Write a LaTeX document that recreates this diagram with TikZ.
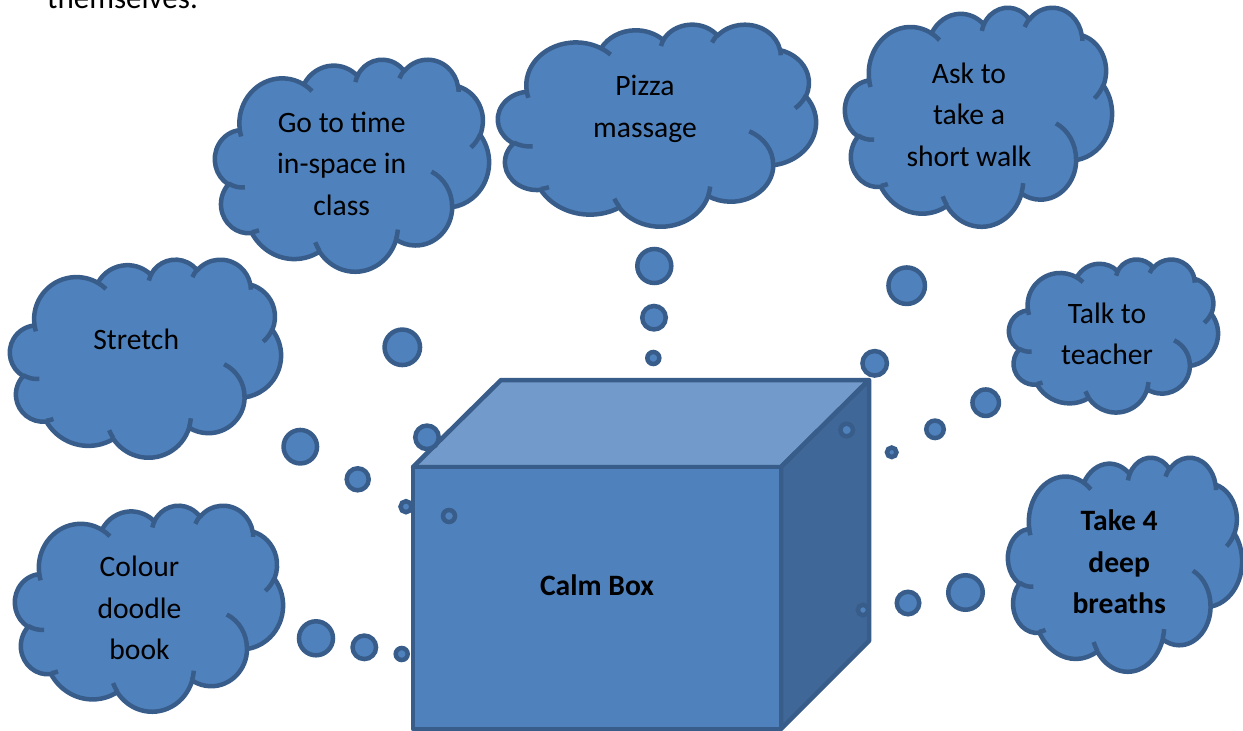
\documentclass[tikz,border=0pt]{standalone}
\usepackage{fontspec}
\setmainfont{Carlito}
\definecolor{cloudfill}{HTML}{4F81BD}
\definecolor{cloudline}{HTML}{385D8A}
\definecolor{topface}{HTML}{729ACA}
\definecolor{sideface}{HTML}{3F6797}
\newcommand\cldarc[4]{%
  \pgfmathsetmacro\cldts{atan2((#1)*sin(#3),(#2)*cos(#3))}%
  \pgfmathsetmacro\cldte{atan2((#1)*sin((#3)+(#4)),(#2)*cos((#3)+(#4)))}%
  \pgfmathsetmacro\cldd{\cldte-(\cldts)}%
  \pgfmathsetmacro\cldd{\cldd-360*round((\cldd-(#4))/360)}%
  \pgfmathsetmacro\cldend{\cldts+(\cldd)}%
  \pgfpatharc{\cldts}{\cldend}{#1pt and #2pt}%
}
\newcommand\cldmove[2]{\pgfpathmoveto{\pgfqpoint{#1pt}{#2pt}}}
\newcommand\calmcloud[4]{%
  \begin{scope}[shift={(#1,#2)},xscale=#3/43.2,yscale=-#4/43.2]
    \pgfsetlinewidth{4.5pt}\pgfsetroundjoin
    \pgfsetstrokecolor{cloudline}\pgfsetfillcolor{cloudfill}
    \cldmove{3.9}{14.37}
    \cldarc{6.753}{9.19}{-190.4875}{123.7805}
    \cldarc{5.333}{7.267}{-144.1024}{89.9452}
    \cldarc{4.365}{5.945}{-145.8079}{99.7230}
    \cldarc{4.857}{6.595}{-130.9861}{117.2417}
    \cldarc{5.333}{7.273}{-78.7089}{109.0269}
    \cldarc{6.775}{9.22}{-46.2673}{130.2690}
    \cldarc{5.785}{7.867}{0.6250}{114.0333}
    \cldarc{6.752}{9.215}{22.4516}{115.1726}
    \cldarc{7.72}{10.543}{66.2426}{75.7110}
    \cldarc{4.36}{5.918}{-274.9421}{146.7356}
    \cldarc{4.345}{5.945}{-246.8285}{152.5189}
    \pgfpathclose
    \pgfusepath{fill,stroke}
    \cldmove{4.693}{26.177}\cldarc{4.345}{5.945}{86.7420}{26.4295}
    \cldmove{6.928}{34.899}\cldarc{4.36}{5.918}{73.6105}{11.4475}
    \cldmove{16.478}{39.09}\cldarc{6.752}{9.215}{137.6242}{14.0811}
    \cldmove{28.827}{34.751}\cldarc{6.752}{9.215}{6.4533}{15.9984}
    \cldmove{34.129}{22.954}\cldarc{5.785}{7.867}{-70.2924}{70.9174}
    \cldmove{41.798}{15.354}\cldarc{5.333}{7.273}{30.3180}{27.7515}
    \cldmove{38.324}{5.426}\cldarc{4.857}{6.595}{-13.7443}{14.8589}
    \cldmove{29.078}{3.952}\cldarc{4.857}{6.595}{-149.1815}{18.1954}
    \cldmove{22.141}{4.72}\cldarc{4.365}{5.945}{-163.4943}{17.6864}
    \cldmove{14.0}{5.192}\cldarc{6.753}{9.19}{-66.7070}{12.3194}
    \cldmove{4.127}{15.789}\cldarc{6.753}{9.19}{157.6544}{11.8582}
    \pgfusepath{stroke}
  \end{scope}%
}
\newcommand\cltext[1]{\begin{tabular}[t]{@{}c@{}}#1\end{tabular}}
\tikzset{
  bubble/.style={circle,draw=cloudline,fill=cloudfill,line width=4.5pt,inner sep=0pt,minimum size=#1},
  cloudtext/.style={anchor=base,inner sep=0pt,text=black,font=\fontsize{29.6}{41.5}\selectfont},
  boldtext/.style={cloudtext,font=\fontsize{29.6}{41.5}\selectfont\bfseries},
  boxedge/.style={draw=cloudline,line width=4.5pt,line join=round},
}
\begin{document}
\begin{tikzpicture}[x=1pt,y=-1pt]
\useasboundingbox (0,0) rectangle (1243,731);
\node[cloudtext,anchor=base west,font=\fontsize{31}{41.5}\selectfont] (intro) at (47,8) {themselves.};
% box
\coordinate (f1) at (413,467);
\coordinate (f2) at (781,467);
\coordinate (f3) at (781,729);
\coordinate (f4) at (413,729);
\coordinate (k1) at (501,380);
\coordinate (k2) at (869,380);
\coordinate (k3) at (869,641);
\path[boxedge,fill=topface] (f1) -- (k1) -- (k2) -- (f2) -- cycle;
\path[boxedge,fill=sideface] (f2) -- (k2) -- (k3) -- (f3) -- cycle;
\path[boxedge,fill=cloudfill] (f1) -- (f2) -- (f3) -- (f4) -- cycle;
\node[boldtext] (calm) at (597,595) {Calm Box};
% clouds
\calmcloud{215}{59}{274}{212}
\calmcloud{498}{24}{318}{202}
\calmcloud{845}{7}{267}{219}
\calmcloud{10}{259}{271}{198}
\calmcloud{15}{505}{268}{206}
\calmcloud{1009}{259}{209}{153}
\calmcloud{1008}{457}{234}{214}
\node[cloudtext] (goto) at (341.7,132) {\cltext{Go to time\\in-space in\\class}};
\node[cloudtext] (pizza) at (645,95.5) {\cltext{Pizza\\massage}};
\node[cloudtext] (ask) at (969,83) {\cltext{Ask to\\take a\\short walk}};
\node[cloudtext] (stretch) at (136.2,349.5) {Stretch};
\node[cloudtext] (colour) at (139.5,576.5) {\cltext{Colour\\doodle\\book}};
\node[cloudtext] (talk) at (1107,323) {\cltext{Talk to\\teacher}};
\node[boldtext] (breaths) at (1119.2,530.5) {\cltext{Take 4\\deep\\breaths}};
% bubbles
\node[bubble=35.5pt] (g1) at (402.3,347.3) {};
\node[bubble=23.5pt] (g2) at (427,437.3) {};
\node[bubble=12pt] (g3) at (449,516) {};
\node[bubble=33.5pt] (s1) at (300.3,446.7) {};
\node[bubble=22pt] (s2) at (357.7,479.3) {};
\node[bubble=11pt] (s3) at (406,506.7) {};
\node[bubble=34pt] (c1) at (316,638.3) {};
\node[bubble=23.5pt] (c2) at (364.3,647.3) {};
\node[bubble=12pt] (c3) at (401.7,654) {};
\node[bubble=34pt] (p1) at (654.3,266) {};
\node[bubble=23.5pt] (p2) at (654,317.7) {};
\node[bubble=12pt] (p3) at (653.3,358) {};
\node[bubble=36.5pt] (a1) at (906.7,285.7) {};
\node[bubble=24.5pt] (a2) at (874.7,363.3) {};
\node[bubble=12.5pt] (a3) at (846.7,430) {};
\node[bubble=26.5pt] (t1) at (985.7,402.7) {};
\node[bubble=17.5pt] (t2) at (935,429.3) {};
\node[bubble=9.5pt] (t3) at (891.7,452.3) {};
\node[bubble=34.5pt] (d1) at (965.5,592.5) {};
\node[bubble=22.5pt] (d2) at (908,603) {};
\node[bubble=10.5pt] (d3) at (863,610) {};
\end{tikzpicture}
\end{document}
